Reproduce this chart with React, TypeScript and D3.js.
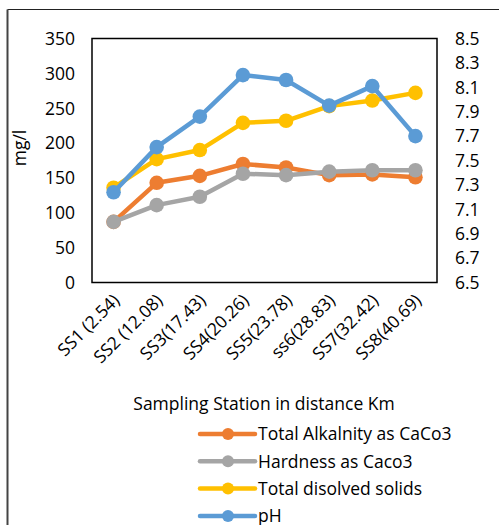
import React from "react";
import * as d3 from "d3";

const categories = ["SS1 (2.54)", "SS2 (12.08)", "SS3(17.43)", "SS4(20.26)", "SS5(23.78)", "ss6(28.83)", "SS7(32.42)", "SS8(40.69)"];
const alkalinity = [87, 143, 153, 170, 165, 154, 155, 151];
const hardness = [87, 111, 123, 156, 154, 159, 161, 161];
const tds = [136, 177, 190, 229, 232, 253, 261, 272];
const ph = [7.24, 7.61, 7.86, 8.2, 8.16, 7.95, 8.11, 7.7];
const leftTicks = [0, 50, 100, 150, 200, 250, 300, 350];
const rightTicks = [6.5, 6.7, 6.9, 7.1, 7.3, 7.5, 7.7, 7.9, 8.1, 8.3, 8.5];
const seriesNames = ["Total Alkalnity as CaCo3", "Hardness as Caco3", "Total disolved solids", "pH"];
const seriesColors = ["#ED7D31", "#A5A5A5", "#FFC000", "#5B9BD5"];

const W = 499, H = 525;
const plot = { left: 92, right: 437, top: 38.5, bottom: 282.5 };
const FONT = "'Open Sans', 'Noto Sans', sans-serif";
const FS = 17.5;

export default function App() {
  const x = d3.scaleBand<string>().domain(categories).range([plot.left, plot.right]);
  const yL = d3.scaleLinear().domain([0, 350]).range([plot.bottom, plot.top]);
  const yR = d3.scaleLinear().domain([6.5, 8.5]).range([plot.bottom, plot.top]);
  const cx = (c: string) => (x(c) as number) + x.bandwidth() / 2;

  const series = [
    { values: alkalinity, scale: yL },
    { values: hardness, scale: yL },
    { values: tds, scale: yL },
    { values: ph, scale: yR },
  ];

  const lineGen = (scale: d3.ScaleLinear<number, number>) =>
    d3.line<number>().x((_, i) => cx(categories[i])).y((v) => scale(v));

  return (
    <svg width={W} height={H} style={{ position: "absolute", left: 0, top: 0, background: "#fff" }} fontFamily={FONT}>
      <rect x={0} y={0} width={W} height={H} fill="#fff" />
      {/* outer frame */}
      <line x1={7.5} y1={9.5} x2={W} y2={9.5} stroke="#222" strokeWidth={1} />
      <line x1={7.5} y1={9.5} x2={7.5} y2={H} stroke="#444" strokeWidth={2} />

      {/* plot border */}
      <rect x={plot.left} y={plot.top} width={plot.right - plot.left} height={plot.bottom - plot.top} fill="none" stroke="#000" strokeWidth={1.5} />

      {/* left ticks */}
      {leftTicks.map((t) => (
        <text key={"l" + t} x={75} y={yL(t)} dy="0.36em" textAnchor="end" fontSize={FS} fill="#000">{t}</text>
      ))}
      {/* right ticks */}
      {rightTicks.map((t) => (
        <text key={"r" + t} x={455} y={yR(t)} dy="0.36em" textAnchor="start" fontSize={FS} fill="#000">{t.toFixed(1)}</text>
      ))}

      {/* y title */}
      <text transform={`translate(26,148) rotate(-90)`} textAnchor="middle" fontSize={FS} fill="#000">mg/l</text>

      {/* x labels */}
      {categories.map((c) => (
        <text key={c} transform={`translate(${cx(c) + 7},${plot.bottom + 19}) rotate(-45)`} textAnchor="end" fontSize={FS} fill="#000">{c}</text>
      ))}

      {/* x title */}
      <text x={264} y={410} textAnchor="middle" fontSize={FS} fill="#000">Sampling Station in distance Km</text>

      {/* series */}
      {series.map((s, si) => (
        <g key={si}>
          <path d={lineGen(s.scale)(s.values) || ""} fill="none" stroke={seriesColors[si]} strokeWidth={4.5} strokeLinejoin="round" strokeLinecap="round" />
          {s.values.map((v, i) => (
            <circle key={i} cx={cx(categories[i])} cy={s.scale(v)} r={7.3} fill={seriesColors[si]} />
          ))}
        </g>
      ))}

      {/* legend */}
      {seriesNames.map((n, i) => {
        const ly = 434 + i * 27.3;
        return (
          <g key={n}>
            <line x1={200} x2={255} y1={ly} y2={ly} stroke={seriesColors[i]} strokeWidth={4.5} strokeLinecap="round" />
            <circle cx={228} cy={ly} r={6} fill={seriesColors[i]} />
            <text x={258} y={ly} dy="0.36em" fontSize={FS} fill="#000">{n}</text>
          </g>
        );
      })}
    </svg>
  );
}
